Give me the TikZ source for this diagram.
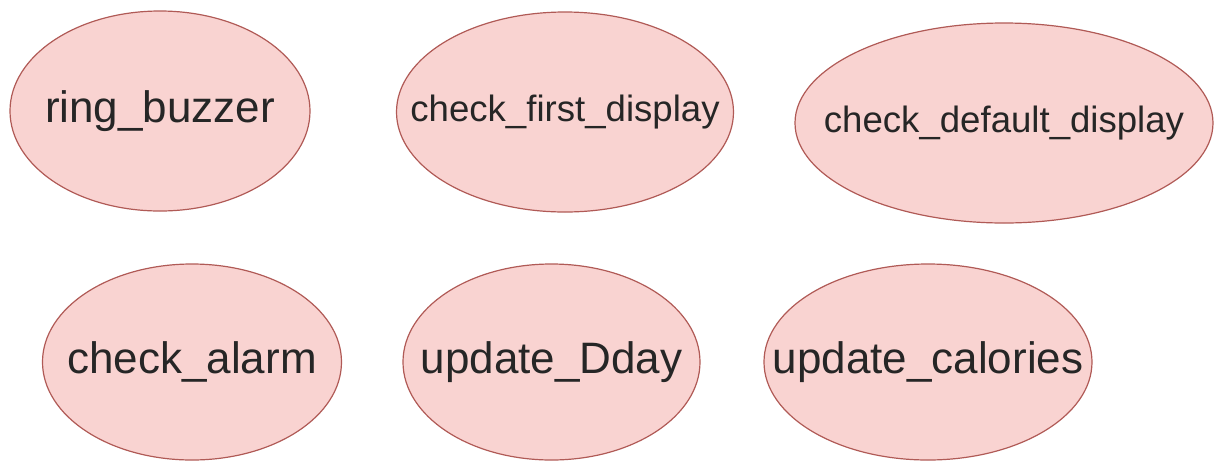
\documentclass[tikz,border=0pt]{standalone}
\usepackage{fontspec}
\setmainfont{Liberation Sans}
\usepackage{tikz}
\usetikzlibrary{shapes.geometric, positioning}
\definecolor{statefill}{HTML}{F9D3D1}
\definecolor{stateline}{HTML}{B05A56}
% text of zero width, so the ellipse keeps its given size
\newcommand{\stname}[1]{\makebox[0pt]{#1}}

\begin{document}
\begin{tikzpicture}[
  x=0.5pt, y=-0.5pt,
  state/.style={ellipse, draw=stateline, fill=statefill, line width=0.6pt, inner sep=0pt, minimum height=100pt, text=black!85, font=\fontsize{22}{26}\selectfont},
  smallstate/.style={state, font=\fontsize{18.3}{22}\selectfont}
]
  \useasboundingbox (0,0) rectangle (1223,462);

  % Top row
  \node[state, minimum width=150pt] (ring) at (160,111) {\stname{ring\_buzzer}};
  \node[smallstate, minimum width=168.5pt] (first) at (565,112) {\stname{check\_first\_display}};
  \node[smallstate, minimum width=209pt] (default) at (1004,123) {\stname{check\_default\_display}};

  % Bottom row
  \node[state, minimum width=149.5pt, minimum height=98pt] (alarm) at (192,362) {\stname{check\_alarm}};
  \node[state, minimum width=148.5pt, minimum height=98pt] (dday) at (551.5,362) {\stname{update\_Dday}};
  \node[state, minimum width=164pt, minimum height=98pt] (calories) at (928,362) {\stname{update\_calories}};
\end{tikzpicture}
\end{document}
